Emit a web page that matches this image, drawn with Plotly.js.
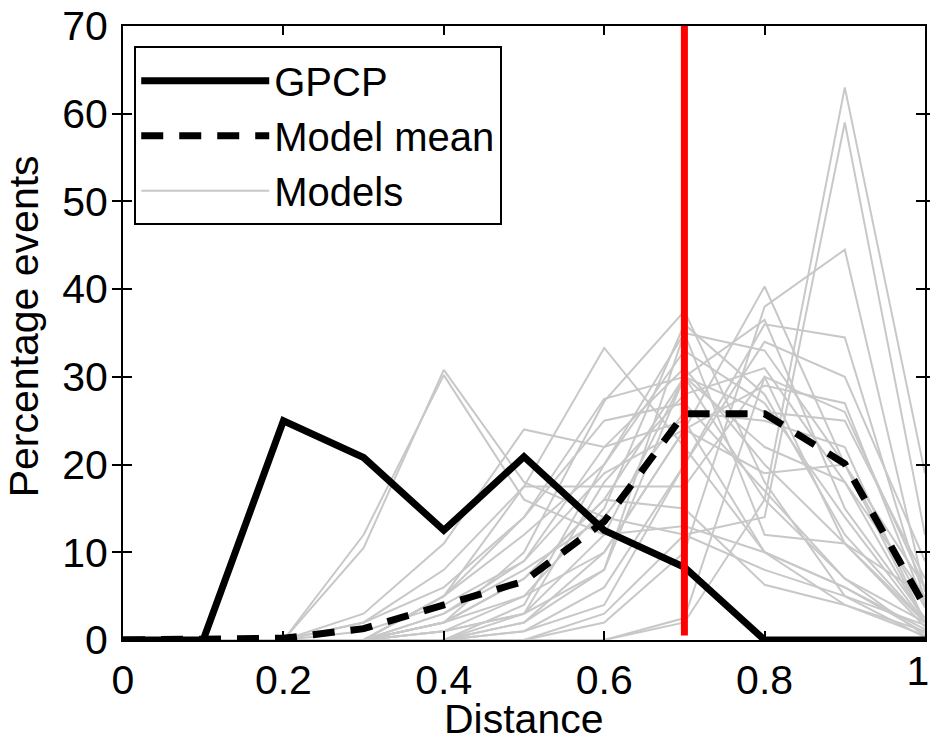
<!DOCTYPE html>
<html>
<head>
<meta charset="utf-8">
<script src="https://cdn.plot.ly/plotly-3.0.1.min.js"></script>
<style>html,body{margin:0;padding:0;background:#fff;}#chart{width:930px;height:745px;}</style>
</head>
<body>
<div id="chart"></div>
<script>
const distance = [0, 0.1, 0.2, 0.3, 0.4, 0.5, 0.6, 0.7, 0.8, 0.9, 1.0];
const gpcp = [0, 0, 25, 20.8, 12.5, 20.9, 12.5, 8.3, 0, 0, 0];
const modelMean = [0, 0, 0.2, 1.3, 4.0, 6.7, 13.5, 25.8, 25.8, 20.1, 3.8];
const models = [
  [0,0,0,0,0,0,0,2,16,63,19],
  [0,0,0,0,0,0,3,12,14,59,12],
  [0,0,0,0,0,0,2,10,38,44.5,5.5],
  [0,0,0,10.5,30.8,18,14,12,8,5,1.7],
  [0,0,0,12,30.2,16,12,13,10,6,0.8],
  [0,0,0,2,8,17.5,33.3,22,10,6,1.2],
  [0,0,0,0,5,14,27.5,30,16,7,0.5],
  [0,0,0,0,2,10,27.2,37.5,18,5,0.3],
  [0,0,0,3,11,24,22,25,10,4,1],
  [0,0,0,0,5,17.5,17.5,17.5,30,11,1.5],
  [0,0,0,0,0,2,10,24,40.3,20,3.7],
  [0,0,0,0,1,3,12,30,36.5,15,2.5],
  [0,0,0,0,0,1,4,20,36,34.5,4.5],
  [0,0,0,0,0,2,8,35,33,20,2],
  [0,0,0,0,2,5,15,36,28,12,2],
  [0,0,0,0,0,4,20,33,27,14,2],
  [0,0,0,1,4,9,22,31,20,11,2],
  [0,0,0,0,0,3,18,28,31,18,2],
  [0,0,0,0,3,8,14,26,25,22,2],
  [0,0,0,0,1,5,10,24,29,27,4],
  [0,0,0,0,2,7,16,30,22,18,5],
  [0,0,0,2,6,14,25,27,17,7,2],
  [0,0,0,0,5,12,20,35,12,11,5],
  [0,0,0,0,0,0,0,2.5,30,26,6],
  [0,0,0,0,1,3,8,30,26,25,7],
  [0,0,0,0,0,1,6,20,34,30,9],
  [0,0,0,0,3,9,19,24,19,20,6],
  [0,0,0,0,2,7,16,15,6.3,4,0.5]
];
const threshold = 0.7;
const thresholdSpan = [0.5, 70];
const xTicks = [0, 0.2, 0.4, 0.6, 0.8];
const xTickLabels = ['0', '0.2', '0.4', '0.6', '0.8'];
const xEndTick = [1];
const xEndLabel = ['1'];
const yTicks = [0, 10, 20, 30, 40, 50, 60, 70];
const xTitle = 'Distance';
const yTitle = 'Percentage events';

const traces = [];
models.forEach((m, i) => {
  traces.push({
    x: distance, y: m, type: 'scatter', mode: 'lines',
    name: 'Models', showlegend: i === 0, legendrank: 3,
    line: {color: '#c8c8c8', width: 2}, hoverinfo: 'skip'
  });
});
traces.push({
  x: distance, y: gpcp, type: 'scatter', mode: 'lines', name: 'GPCP', legendrank: 1,
  line: {color: '#000000', width: 7}
});
traces.push({
  x: distance, y: modelMean, type: 'scatter', mode: 'lines', name: 'Model mean', legendrank: 2,
  line: {color: '#000000', width: 7, dash: '22px,16px'}
});
traces.push({
  x: [threshold, threshold], y: thresholdSpan, type: 'scatter', mode: 'lines',
  showlegend: false, line: {color: '#ff0000', width: 7}
});
traces.push({x: xEndTick, y: [null], xaxis: 'x2', yaxis: 'y', type: 'scatter', mode: 'lines', showlegend: false, hoverinfo: 'skip'});

const fam = 'Liberation Sans, Arial, sans-serif';
const fs = 41;
const layout = {
  width: 930, height: 745,
  margin: {l: 123, r: 5, t: 26, b: 105},
  paper_bgcolor: '#fff', plot_bgcolor: '#fff',
  font: {family: fam, size: fs, color: '#000'},
  showlegend: true,
  legend: {
    x: 0.014, y: 0.967, xanchor: 'left', yanchor: 'top',
    bgcolor: '#fff', bordercolor: '#000', borderwidth: 2,
    font: {family: fam, size: 40, color: '#000'},
    traceorder: 'normal', itemwidth: 128, tracegroupgap: 0
  },
  xaxis: {
    range: [0, 1], tickvals: xTicks, ticktext: xTickLabels,
    ticks: 'inside', ticklen: 9, tickwidth: 2, tickcolor: '#000',
    showline: true, linecolor: '#000', linewidth: 2, mirror: 'allticks',
    showgrid: false, zeroline: false, ticklabelstandoff: 3,
    tickfont: {family: fam, size: fs, color: '#000'}
  },
  xaxis2: {
    range: [0, 1], overlaying: 'x', side: 'bottom', anchor: 'y',
    tickvals: xEndTick, ticktext: xEndLabel,
    ticks: 'inside', ticklen: 9, tickwidth: 2, tickcolor: '#000',
    showline: false, showgrid: false, zeroline: false,
    ticklabelstandoff: 3, ticklabelshift: -7,
    tickfont: {family: fam, size: fs, color: '#000'}
  },
  yaxis: {
    range: [0, 70], tickvals: yTicks,
    ticks: 'inside', ticklen: 9, tickwidth: 2, tickcolor: '#000',
    showline: true, linecolor: '#000', linewidth: 2, mirror: 'allticks',
    showgrid: false, zeroline: false, ticklabelstandoff: 5,
    tickfont: {family: fam, size: fs, color: '#000'}
  },
  annotations: [{
    text: yTitle, xref: 'paper', yref: 'paper', x: -0.1234, y: 0.511,
    xanchor: 'center', yanchor: 'middle', textangle: -90, showarrow: false,
    font: {family: fam, size: fs, color: '#000'}
  }, {
    text: xTitle, xref: 'paper', yref: 'paper', x: 0.5, y: -0.169,
    xanchor: 'center', yanchor: 'bottom', showarrow: false,
    font: {family: fam, size: fs, color: '#000'}
  }]
};
Plotly.newPlot('chart', traces, layout, {displayModeBar: false, staticPlot: true});
</script>
</body>
</html>
